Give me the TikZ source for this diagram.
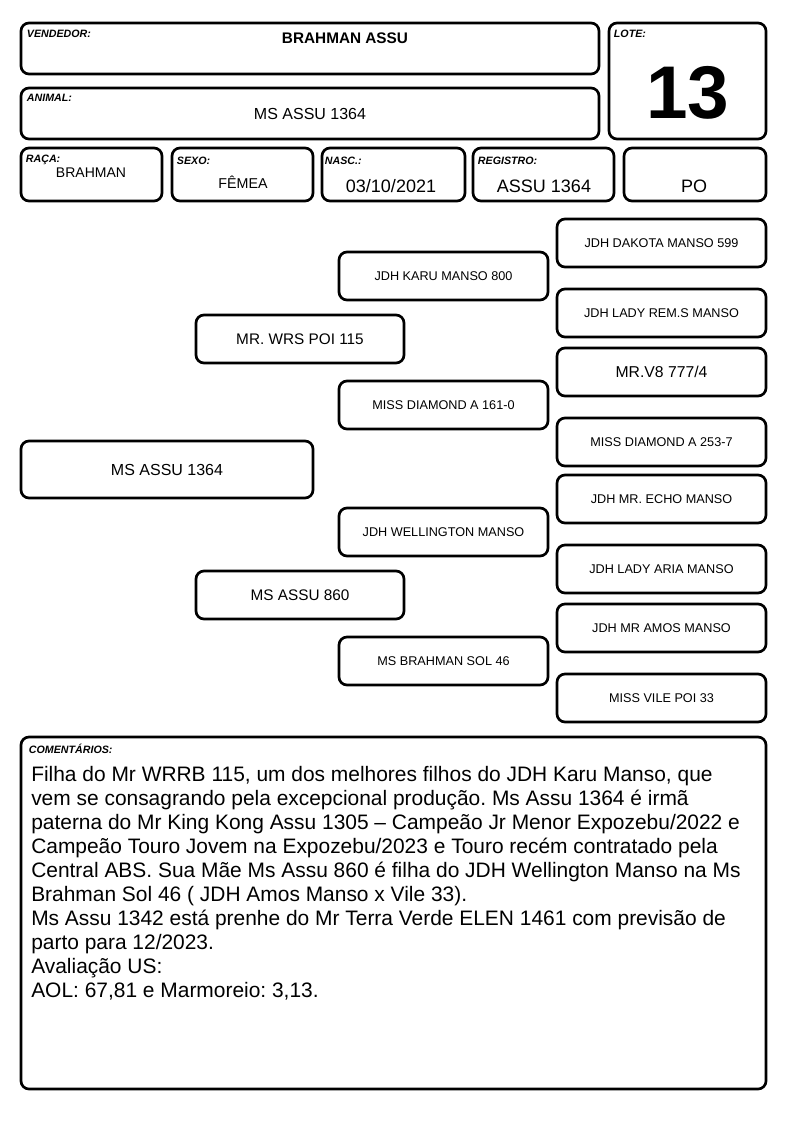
\documentclass[tikz,border=0pt]{standalone}
\usepackage{fontspec}
\setmainfont{Liberation Sans}
\usetikzlibrary{positioning}
\frenchspacing

\tikzset{
  card/.style={draw, line width=2pt, rounded corners=6pt, inner sep=0pt},
  dims/.style 2 args={minimum width=#1*0.75pt, minimum height=#2*0.75pt},
  tag/.style={font=\fontsize{8}{9}\selectfont\bfseries\itshape, anchor=north west, inner sep=0pt},
  val/.style={inner sep=0pt},
  ped/.style={card, dims={209}{48}, font=\fontsize{9.5}{11}\selectfont}
}

\begin{document}
\begin{tikzpicture}[x=0.75pt, y=-0.75pt]
  \useasboundingbox (0,0) rectangle (794,1123);
  % Header boxes
  \node[card, dims={578}{51}] (vend) at (310,48.5) {};
  \node[card, dims={578}{51}] (anim) at (310,113.5) {};
  \node[card, dims={157}{116}] (lote) at (687.5,81) {};
  \node[tag] (vendtag) at ([shift={(7,8.5)}]vend.north west) {VENDEDOR:};
  \node[tag] (animtag) at ([shift={(7,7.5)}]anim.north west) {ANIMAL:};
  \node[tag] (lotetag) at ([shift={(6,8)}]lote.north west) {LOTE:};
  \node[val, anchor=base, font=\fontsize{11.5}{13}\selectfont\bfseries] (vendval) at (345,43.3) {BRAHMAN ASSU};
  \node[val, anchor=base, font=\fontsize{12}{14}\selectfont] (animval) at (310,120) {MS ASSU 1364};
  \node[val, anchor=base, font=\fontsize{56}{60}\selectfont\bfseries] (loteval) at (688,118.5) {13};
  % Data row
  \node[card, dims={141}{53}] (raca) at (91.5,174.5) {};
  \node[card, dims={141}{53}] (sexo) at (242.5,174.5) {};
  \node[card, dims={143}{53}] (nasc) at (393.5,174.5) {};
  \node[card, dims={141}{53}] (regi) at (543.5,174.5) {};
  \node[card, dims={142}{53}] (cat) at (695,174.5) {};
  \node[tag] (racatag) at ([shift={(6,8)}]raca.north west) {RAÇA:};
  \node[tag] (sexotag) at ([shift={(6,10)}]sexo.north west) {SEXO:};
  \node[tag] (nasctag) at ([shift={(4,10)}]nasc.north west) {NASC.:};
  \node[tag] (regitag) at ([shift={(6,10)}]regi.north west) {REGISTRO:};
  \node[val, anchor=base, font=\fontsize{10.5}{12}\selectfont] (racaval) at (91,178) {BRAHMAN};
  \node[val, anchor=base, font=\fontsize{10.7}{12}\selectfont] (sexoval) at (243,189) {FÊMEA};
  \node[val, anchor=base, font=\fontsize{13.5}{15}\selectfont] (nascval) at (391,192.5) {03/10/2021};
  \node[val, anchor=base, font=\fontsize{13.5}{15}\selectfont] (regival) at (544,192.5) {ASSU 1364};
  \node[val, anchor=base, font=\fontsize{13.5}{15}\selectfont] (catval) at (694,192.5) {PO};
  % Pedigree: animal
  \node[card, dims={292}{57}, font=\fontsize{12}{14}\selectfont] (self) at (167,469.5) {MS ASSU 1364};
  % Pedigree: parents
  \node[card, dims={208}{48}, font=\fontsize{11.5}{13}\selectfont] (sire) at (300,339) {MR. WRS POI 115};
  \node[card, dims={208}{48}, font=\fontsize{11.5}{13}\selectfont] (dam) at (300,595) {MS ASSU 860};
  % Pedigree: grandparents
  \node[ped] (ss) at (443.5,276) {JDH KARU MANSO 800};
  \node[ped] (sd) at (443.5,405) {MISS DIAMOND A 161-0};
  \node[ped] (ds) at (443.5,532) {JDH WELLINGTON MANSO};
  \node[ped] (dd) at (443.5,661) {MS BRAHMAN SOL 46};
  % Pedigree: great-grandparents
  \node[ped] (sss) at (661.5,243) {JDH DAKOTA MANSO 599};
  \node[ped] (ssd) at (661.5,313) {JDH LADY REM.S MANSO};
  \node[ped, font=\fontsize{11.8}{13}\selectfont] (sds) at (661.5,372) {MR.V8 777/4};
  \node[ped] (sdd) at (661.5,442) {MISS DIAMOND A 253-7};
  \node[ped] (dss) at (661.5,499) {JDH MR. ECHO MANSO};
  \node[ped] (dsd) at (661.5,569) {JDH LADY ARIA MANSO};
  \node[ped] (dds) at (661.5,628) {JDH MR AMOS MANSO};
  \node[ped] (ddd) at (661.5,698) {MISS VILE POI 33};
  % Comments
  \node[card, dims={745}{352}] (coment) at (393.5,913) {};
  \node[tag] (comenttag) at ([shift={(9,8)}]coment.north west) {COMENTÁRIOS:};
  \node[val, anchor=base west, align=left, font=\fontsize{15.7}{18}\selectfont] (comentval) at (31,997.5)
    {Filha do Mr WRRB 115, um dos melhores filhos do JDH Karu Manso, que\\
     vem se consagrando pela excepcional produção. Ms Assu 1364 é irmã\\
     paterna do Mr King Kong Assu 1305 – Campeão Jr Menor Expozebu/2022 e\\
     Campeão Touro Jovem na Expozebu/2023 e Touro recém contratado pela\\
     Central ABS. Sua Mãe Ms Assu 860 é filha do JDH Wellington Manso na Ms\\
     Brahman Sol 46 ( JDH Amos Manso x Vile 33).\\
     Ms Assu 1342 está prenhe do Mr Terra Verde ELEN 1461 com previsão de\\
     parto para 12/2023.\\
     Avaliação US:\\
     AOL: 67,81 e Marmoreio: 3,13.};
\end{tikzpicture}
\end{document}
